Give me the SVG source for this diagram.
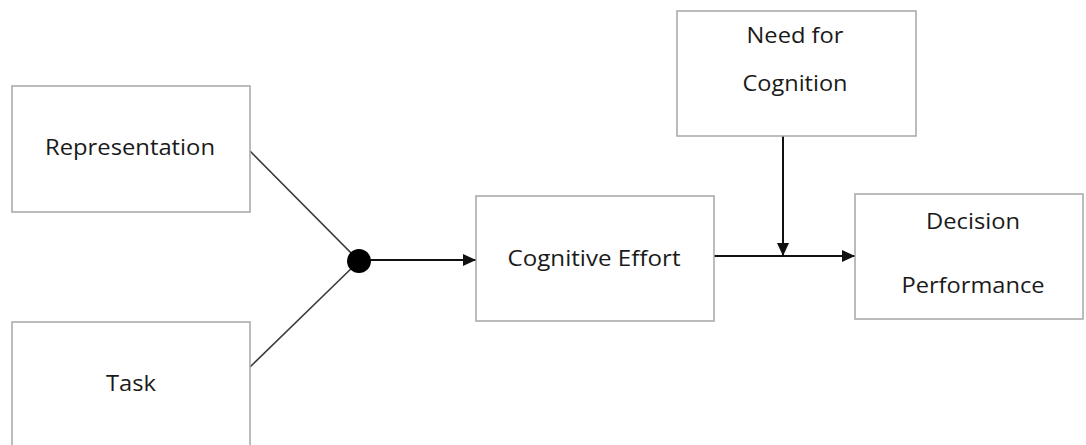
<svg xmlns="http://www.w3.org/2000/svg" width="1086" height="445" viewBox="0 0 1086 445">
  <style>
    .box { fill: #ffffff; stroke: #a6a6a6; stroke-width: 1.5; }
    .lbl { font-family: "Open Sans", "Noto Sans", sans-serif; font-size: 21px; fill: #1a1a1a; text-anchor: middle; dominant-baseline: central; }
    .wire { stroke: #3a3a3a; stroke-width: 1.6; fill: none; }
    .arrow { stroke: #111111; stroke-width: 2; fill: none; marker-end: url(#head); }
  </style>
  <defs>
    <marker id="head" viewBox="0 0 12 12" refX="12" refY="6" markerWidth="13" markerHeight="12" markerUnits="userSpaceOnUse" orient="auto" preserveAspectRatio="none">
      <path d="M0,0 L12,6 L0,12 Z" fill="#111111"/>
    </marker>
  </defs>
  <rect width="1086" height="445" fill="#ffffff"/>

  <g id="connectors">
    <line class="wire" x1="250" y1="151" x2="359" y2="261"/>
    <line class="wire" x1="250" y1="367" x2="359" y2="261"/>
    <line class="arrow" x1="365" y1="260" x2="476" y2="260"/>
    <line class="arrow" x1="714" y1="256" x2="855" y2="256"/>
    <line class="arrow" x1="783" y1="136" x2="783" y2="256"/>
    <circle cx="359" cy="261" r="12" fill="#000000"/>
  </g>

  <g id="representation">
    <rect class="box" x="12" y="86" width="238" height="126"/>
    <text class="lbl" x="130" y="147" textLength="170" lengthAdjust="spacingAndGlyphs">Representation</text>
  </g>

  <g id="task">
    <rect class="box" x="12" y="322" width="238" height="140"/>
    <text class="lbl" x="131" y="383" textLength="50" lengthAdjust="spacingAndGlyphs">Task</text>
  </g>

  <g id="cognitive-effort">
    <rect class="box" x="476" y="196" width="238" height="125"/>
    <text class="lbl" x="594" y="258" textLength="173" lengthAdjust="spacingAndGlyphs">Cognitive Effort</text>
  </g>

  <g id="need-for-cognition">
    <rect class="box" x="677" y="11" width="239" height="125"/>
    <text class="lbl" x="795" y="35" textLength="97" lengthAdjust="spacingAndGlyphs">Need for</text>
    <text class="lbl" x="795" y="83" textLength="105" lengthAdjust="spacingAndGlyphs">Cognition</text>
  </g>

  <g id="decision-performance">
    <rect class="box" x="855" y="194" width="228" height="125"/>
    <text class="lbl" x="973" y="221" textLength="94" lengthAdjust="spacingAndGlyphs">Decision</text>
    <text class="lbl" x="973" y="285" textLength="143" lengthAdjust="spacingAndGlyphs">Performance</text>
  </g>
</svg>
